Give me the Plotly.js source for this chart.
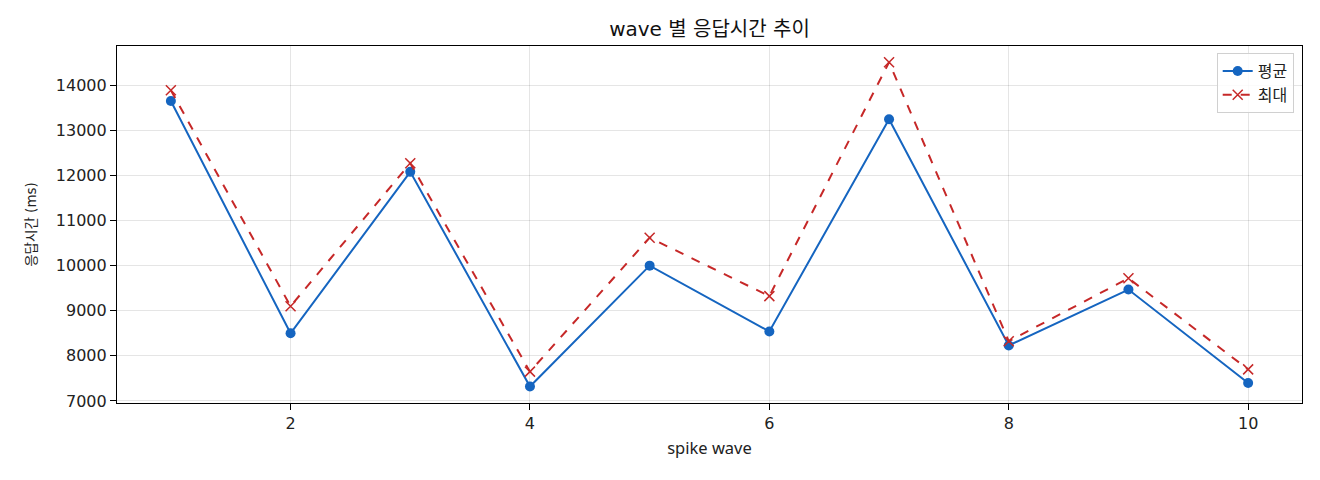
<!DOCTYPE html>
<html>
<head>
<meta charset="utf-8">
<script src="https://cdn.plot.ly/plotly-3.0.1.min.js"></script>
<style>
  body { margin: 0; background: #fff; }
  #chart { width: 1320px; height: 480px; }
</style>
</head>
<body>
<div id="chart"></div>
<script>
var waves = [1, 2, 3, 4, 5, 6, 7, 8, 9, 10];
var avgMs = [13650, 8500, 12080, 7320, 10000, 8540, 13245, 8230, 9470, 7400];
var maxMs = [13890, 9100, 12270, 7650, 10620, 9325, 14510, 8325, 9720, 7700];

// latin from DejaVu, hangul falls back to Noto CJK
var FONT = '"DejaVu Sans", "Noto Sans CJK KR", sans-serif';
var LABEL_FONT = '"Noto Sans", "Noto Sans CJK KR", sans-serif';

var avg = {
    x: waves,
    y: avgMs,
    mode: 'lines+markers',
    name: '평균',
    line: { color: '#1565c0', width: 2 },
    marker: { color: '#1565c0', symbol: 'circle', size: 10 }
};

var mx = {
    x: waves,
    y: maxMs,
    mode: 'lines+markers',
    name: '최대',
    line: { color: '#c62828', width: 2, dash: 'dash' },
    marker: { color: '#c62828', symbol: 'x-thin-open', size: 10,
              line: { color: '#c62828', width: 1.5 } }
};

var layout = {
    width: 1320,
    height: 480,
    margin: { l: 117, r: 18, t: 46, b: 77 },
    paper_bgcolor: '#fff',
    plot_bgcolor: '#fff',
    font: { family: FONT, color: '#222', size: 14 },
    title: {
        text: 'wave 별 응답시간 추이',
        font: { size: 20, color: '#111', family: FONT },
        x: 0.5 + (117 - 18) / 2 / 1320,
        xanchor: 'center',
        y: 0.94,
        yanchor: 'middle'
    },
    xaxis: {
        title: { text: 'spike wave', font: { size: 16.5, family: LABEL_FONT }, standoff: 10 },
        range: [0.55, 10.45],
        dtick: 2,
        tick0: 0,
        showgrid: true,
        gridcolor: 'rgba(0,0,0,0.1)',
        zeroline: false,
        ticks: 'outside',
        ticklen: 6,
        tickcolor: '#000',
        showline: true,
        linecolor: '#000',
        linewidth: 1.2,
        mirror: true,
        tickfont: { size: 16 }
    },
    yaxis: {
        title: { text: '응답시간 (ms)', font: { size: 13.5, family: FONT }, standoff: 16 },
        range: [6955, 14870],
        dtick: 1000,
        showgrid: true,
        gridcolor: 'rgba(0,0,0,0.1)',
        zeroline: false,
        ticks: 'outside',
        ticklen: 6,
        tickcolor: '#000',
        showline: true,
        linecolor: '#000',
        linewidth: 1.2,
        mirror: true,
        tickformat: 'd',
        tickfont: { size: 16 }
    },
    legend: {
        x: 0.993,
        xanchor: 'right',
        y: 0.98,
        yanchor: 'top',
        bordercolor: '#d0d0d0',
        borderwidth: 1,
        bgcolor: 'rgba(255,255,255,0.85)',
        font: { size: 16 }
    },
    showlegend: true
};

Plotly.newPlot('chart', [avg, mx], layout, { displayModeBar: false });
</script>
</body>
</html>
